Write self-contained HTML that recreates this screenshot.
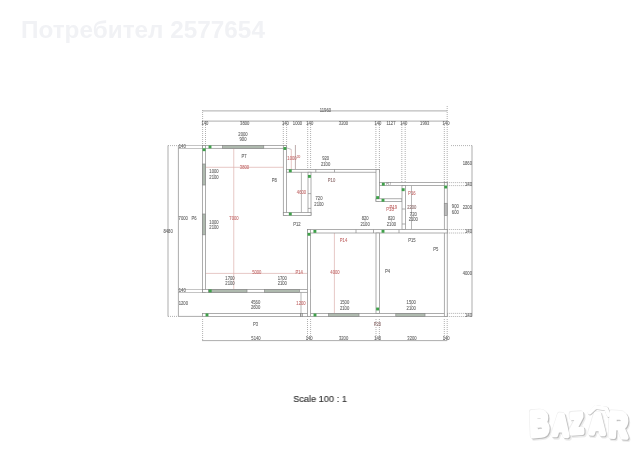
<!DOCTYPE html>
<html lang="bg"><head><meta charset="utf-8"><title>Scale 100 : 1</title>
<style>
html,body{margin:0;padding:0;background:#fff;}
body{width:640px;height:452px;overflow:hidden;position:relative;font-family:"Liberation Sans",sans-serif;}
#plan{position:absolute;left:0;top:0;width:640px;height:452px;will-change:transform;}
#plan text{font-family:"Liberation Sans",sans-serif;}
#user{position:absolute;left:21px;top:17.9px;font-size:23px;font-weight:bold;color:#f1f2f5;white-space:nowrap;line-height:24px;transform:scaleX(1.057);transform-origin:0 0;}
#scale{position:absolute;left:269.7px;width:100px;top:393.4px;text-align:center;font-size:9.8px;transform:scaleX(0.94);color:#333;line-height:12px;white-space:nowrap;-webkit-text-stroke:0.15px #333;will-change:transform;}
#logo{position:absolute;left:520px;top:395px;width:120px;height:57px;}
</style></head><body>
<svg id="plan" viewBox="0 0 640 452" width="640" height="452">
<line x1="202.60" y1="121.00" x2="202.60" y2="145.50" stroke="#9c9c9c" stroke-width="0.8" stroke-dasharray="1 1"/>
<line x1="205.50" y1="121.00" x2="205.50" y2="145.50" stroke="#9c9c9c" stroke-width="0.8" stroke-dasharray="1 1"/>
<line x1="283.30" y1="121.00" x2="283.30" y2="145.50" stroke="#9c9c9c" stroke-width="0.8" stroke-dasharray="1 1"/>
<line x1="286.60" y1="121.00" x2="286.60" y2="145.50" stroke="#9c9c9c" stroke-width="0.8" stroke-dasharray="1 1"/>
<line x1="307.70" y1="121.00" x2="307.70" y2="169.40" stroke="#9c9c9c" stroke-width="0.8" stroke-dasharray="1 1"/>
<line x1="310.60" y1="121.00" x2="310.60" y2="169.40" stroke="#9c9c9c" stroke-width="0.8" stroke-dasharray="1 1"/>
<line x1="375.90" y1="121.00" x2="375.90" y2="169.40" stroke="#9c9c9c" stroke-width="0.8" stroke-dasharray="1 1"/>
<line x1="379.40" y1="121.00" x2="379.40" y2="169.40" stroke="#9c9c9c" stroke-width="0.8" stroke-dasharray="1 1"/>
<line x1="401.80" y1="121.00" x2="401.80" y2="182.60" stroke="#9c9c9c" stroke-width="0.8" stroke-dasharray="1 1"/>
<line x1="405.20" y1="121.00" x2="405.20" y2="182.60" stroke="#9c9c9c" stroke-width="0.8" stroke-dasharray="1 1"/>
<line x1="444.30" y1="121.00" x2="444.30" y2="182.60" stroke="#9c9c9c" stroke-width="0.8" stroke-dasharray="1 1"/>
<line x1="447.20" y1="121.00" x2="447.20" y2="182.60" stroke="#9c9c9c" stroke-width="0.8" stroke-dasharray="1 1"/>
<line x1="447.20" y1="106.00" x2="447.20" y2="121.00" stroke="#9c9c9c" stroke-width="0.8" stroke-dasharray="1 1"/>
<line x1="202.60" y1="110.00" x2="202.60" y2="121.00" stroke="#9c9c9c" stroke-width="0.8" stroke-dasharray="1 1"/>
<line x1="202.60" y1="110.90" x2="447.20" y2="110.90" stroke="#8a8a8a" stroke-width="0.7"/>
<line x1="202.60" y1="121.10" x2="447.20" y2="121.10" stroke="#8a8a8a" stroke-width="0.7"/>
<line x1="168.00" y1="145.50" x2="168.00" y2="316.50" stroke="#8a8a8a" stroke-width="0.7"/>
<line x1="178.40" y1="145.50" x2="178.40" y2="316.50" stroke="#8a8a8a" stroke-width="0.7"/>
<line x1="168.00" y1="145.60" x2="178.40" y2="145.60" stroke="#9c9c9c" stroke-width="0.8" stroke-dasharray="1 1"/>
<line x1="168.00" y1="316.40" x2="178.40" y2="316.40" stroke="#9c9c9c" stroke-width="0.8" stroke-dasharray="1 1"/>
<line x1="178.40" y1="316.40" x2="202.60" y2="316.40" stroke="#8a8a8a" stroke-width="0.7"/>
<rect x="178.40" y="145.50" width="24.20" height="2.80" fill="#fff" stroke="#8a8a8a" stroke-width="0.5"/>
<rect x="178.40" y="289.50" width="24.20" height="2.80" fill="#fff" stroke="#8a8a8a" stroke-width="0.5"/>
<line x1="472.00" y1="145.60" x2="472.00" y2="316.50" stroke="#8a8a8a" stroke-width="0.7"/>
<line x1="451.00" y1="145.60" x2="472.00" y2="145.60" stroke="#9c9c9c" stroke-width="0.8" stroke-dasharray="1 1"/>
<line x1="447.20" y1="182.60" x2="472.00" y2="182.60" stroke="#9c9c9c" stroke-width="0.8" stroke-dasharray="1 1"/>
<line x1="447.20" y1="185.60" x2="472.00" y2="185.60" stroke="#9c9c9c" stroke-width="0.8" stroke-dasharray="1 1"/>
<line x1="447.20" y1="229.50" x2="472.00" y2="229.50" stroke="#9c9c9c" stroke-width="0.8" stroke-dasharray="1 1"/>
<line x1="447.20" y1="233.00" x2="472.00" y2="233.00" stroke="#9c9c9c" stroke-width="0.8" stroke-dasharray="1 1"/>
<line x1="447.20" y1="313.40" x2="472.00" y2="313.40" stroke="#9c9c9c" stroke-width="0.8" stroke-dasharray="1 1"/>
<line x1="447.20" y1="316.50" x2="472.00" y2="316.50" stroke="#9c9c9c" stroke-width="0.8" stroke-dasharray="1 1"/>
<line x1="202.00" y1="340.60" x2="447.30" y2="340.60" stroke="#8a8a8a" stroke-width="0.7"/>
<line x1="202.60" y1="319.00" x2="202.60" y2="340.60" stroke="#9c9c9c" stroke-width="0.8" stroke-dasharray="1 1"/>
<line x1="307.50" y1="319.00" x2="307.50" y2="340.60" stroke="#9c9c9c" stroke-width="0.8" stroke-dasharray="1 1"/>
<line x1="310.60" y1="319.00" x2="310.60" y2="340.60" stroke="#9c9c9c" stroke-width="0.8" stroke-dasharray="1 1"/>
<line x1="376.00" y1="319.00" x2="376.00" y2="340.60" stroke="#9c9c9c" stroke-width="0.8" stroke-dasharray="1 1"/>
<line x1="379.40" y1="319.00" x2="379.40" y2="340.60" stroke="#9c9c9c" stroke-width="0.8" stroke-dasharray="1 1"/>
<line x1="444.30" y1="319.00" x2="444.30" y2="340.60" stroke="#9c9c9c" stroke-width="0.8" stroke-dasharray="1 1"/>
<line x1="447.20" y1="319.00" x2="447.20" y2="340.60" stroke="#9c9c9c" stroke-width="0.8" stroke-dasharray="1 1"/>
<line x1="205.50" y1="167.30" x2="283.30" y2="167.30" stroke="#dcb0ae" stroke-width="0.7"/>
<line x1="233.75" y1="148.30" x2="233.75" y2="289.50" stroke="#dcb0ae" stroke-width="0.7"/>
<line x1="205.50" y1="273.40" x2="307.50" y2="273.40" stroke="#dcb0ae" stroke-width="0.7"/>
<line x1="334.40" y1="233.00" x2="334.40" y2="313.40" stroke="#dcb0ae" stroke-width="0.7"/>
<line x1="411.50" y1="185.60" x2="411.50" y2="229.50" stroke="#999" stroke-width="0.7"/>
<line x1="301.00" y1="292.30" x2="301.00" y2="313.40" stroke="#999" stroke-width="0.7"/>
<line x1="301.40" y1="172.20" x2="301.40" y2="212.60" stroke="#999" stroke-width="0.7"/>
<line x1="295.40" y1="145.00" x2="295.40" y2="169.40" stroke="#a08888" stroke-width="0.7"/>
<line x1="291.30" y1="149.40" x2="291.30" y2="169.40" stroke="#dcb0ae" stroke-width="0.7"/>
<line x1="287.00" y1="148.00" x2="291.30" y2="149.40" stroke="#999" stroke-width="0.6"/>
<rect x="202.60" y="313.40" width="244.60" height="3.10" fill="#fff" stroke="#8a8a8a" stroke-width="0.7"/>
<rect x="202.60" y="145.50" width="84.00" height="2.80" fill="#fff" stroke="#8a8a8a" stroke-width="0.7"/>
<rect x="202.60" y="145.50" width="2.90" height="146.80" fill="#fff" stroke="#8a8a8a" stroke-width="0.7"/>
<rect x="283.30" y="145.50" width="3.30" height="70.00" fill="#fff" stroke="#8a8a8a" stroke-width="0.7"/>
<rect x="202.60" y="289.50" width="108.00" height="2.80" fill="#fff" stroke="#8a8a8a" stroke-width="0.7"/>
<rect x="286.60" y="169.40" width="92.80" height="2.80" fill="#fff" stroke="#8a8a8a" stroke-width="0.7"/>
<rect x="308.00" y="172.20" width="3.00" height="43.30" fill="#fff" stroke="#8a8a8a" stroke-width="0.7"/>
<rect x="283.30" y="212.60" width="27.70" height="2.90" fill="#fff" stroke="#8a8a8a" stroke-width="0.7"/>
<rect x="376.00" y="169.40" width="3.40" height="32.20" fill="#fff" stroke="#8a8a8a" stroke-width="0.7"/>
<rect x="376.00" y="198.80" width="26.00" height="2.80" fill="#fff" stroke="#8a8a8a" stroke-width="0.7"/>
<rect x="379.40" y="182.60" width="67.80" height="3.00" fill="#fff" stroke="#8a8a8a" stroke-width="0.7"/>
<rect x="402.00" y="185.60" width="3.40" height="43.90" fill="#fff" stroke="#8a8a8a" stroke-width="0.7"/>
<rect x="444.30" y="182.60" width="2.90" height="133.90" fill="#fff" stroke="#8a8a8a" stroke-width="0.7"/>
<rect x="307.40" y="229.50" width="139.80" height="3.50" fill="#fff" stroke="#8a8a8a" stroke-width="0.7"/>
<rect x="307.40" y="229.50" width="3.20" height="87.00" fill="#fff" stroke="#8a8a8a" stroke-width="0.7"/>
<rect x="376.00" y="233.00" width="3.40" height="80.40" fill="#fff" stroke="#8a8a8a" stroke-width="0.7"/>
<rect x="222.50" y="145.50" width="41.25" height="2.80" fill="#afbaaf" stroke="#8a8a8a" stroke-width="0.7"/>
<rect x="202.60" y="164.00" width="2.90" height="21.00" fill="#afbaaf" stroke="#8a8a8a" stroke-width="0.7"/>
<rect x="202.60" y="214.00" width="2.90" height="20.80" fill="#afbaaf" stroke="#8a8a8a" stroke-width="0.7"/>
<rect x="208.40" y="289.50" width="38.60" height="2.80" fill="#afbaaf" stroke="#8a8a8a" stroke-width="0.7"/>
<rect x="264.50" y="289.50" width="34.90" height="2.80" fill="#afbaaf" stroke="#8a8a8a" stroke-width="0.7"/>
<rect x="328.60" y="313.40" width="30.40" height="3.10" fill="#afbaaf" stroke="#8a8a8a" stroke-width="0.7"/>
<rect x="395.80" y="313.40" width="29.20" height="3.10" fill="#afbaaf" stroke="#8a8a8a" stroke-width="0.7"/>
<rect x="444.30" y="203.30" width="2.90" height="12.20" fill="#bdbdbd" stroke="#8a8a8a" stroke-width="0.7"/>
<line x1="315.80" y1="169.40" x2="315.80" y2="172.20" stroke="#8a8a8a" stroke-width="0.7"/>
<line x1="334.50" y1="169.40" x2="334.50" y2="172.20" stroke="#8a8a8a" stroke-width="0.7"/>
<line x1="308.00" y1="193.60" x2="311.00" y2="193.60" stroke="#8a8a8a" stroke-width="0.7"/>
<line x1="308.00" y1="208.40" x2="311.00" y2="208.40" stroke="#8a8a8a" stroke-width="0.7"/>
<line x1="356.00" y1="229.50" x2="356.00" y2="233.00" stroke="#8a8a8a" stroke-width="0.7"/>
<line x1="373.50" y1="229.50" x2="373.50" y2="233.00" stroke="#8a8a8a" stroke-width="0.7"/>
<line x1="399.00" y1="229.50" x2="399.00" y2="233.00" stroke="#8a8a8a" stroke-width="0.7"/>
<line x1="402.00" y1="209.00" x2="405.40" y2="209.00" stroke="#8a8a8a" stroke-width="0.7"/>
<line x1="402.00" y1="224.00" x2="405.40" y2="224.00" stroke="#8a8a8a" stroke-width="0.7"/>
<line x1="300.60" y1="313.40" x2="300.60" y2="316.50" stroke="#555" stroke-width="0.7"/>
<line x1="302.20" y1="313.40" x2="302.20" y2="316.50" stroke="#555" stroke-width="0.7"/>
<rect x="208.55" y="145.45" width="2.9" height="2.9" fill="#3fa04a"/>
<rect x="202.65" y="148.25" width="2.9" height="2.9" fill="#3fa04a"/>
<rect x="283.45" y="147.05" width="2.9" height="2.9" fill="#3fa04a"/>
<rect x="288.85" y="169.35" width="2.9" height="2.9" fill="#3fa04a"/>
<rect x="307.95" y="174.95" width="2.9" height="2.9" fill="#3fa04a"/>
<rect x="288.85" y="212.55" width="2.9" height="2.9" fill="#3fa04a"/>
<rect x="208.75" y="289.45" width="2.9" height="2.9" fill="#3fa04a"/>
<rect x="205.55" y="313.45" width="2.9" height="2.9" fill="#3fa04a"/>
<rect x="313.55" y="313.55" width="2.9" height="2.9" fill="#3fa04a"/>
<rect x="307.55" y="232.85" width="2.9" height="2.9" fill="#3fa04a"/>
<rect x="313.45" y="229.95" width="2.9" height="2.9" fill="#3fa04a"/>
<rect x="376.15" y="307.55" width="2.9" height="2.9" fill="#3fa04a"/>
<rect x="381.85" y="182.75" width="2.9" height="2.9" fill="#3fa04a"/>
<rect x="376.15" y="196.15" width="2.9" height="2.9" fill="#3fa04a"/>
<rect x="381.55" y="198.85" width="2.9" height="2.9" fill="#3fa04a"/>
<rect x="401.75" y="188.25" width="2.9" height="2.9" fill="#3fa04a"/>
<rect x="444.25" y="185.55" width="2.9" height="2.9" fill="#3fa04a"/>
<rect x="381.55" y="229.85" width="2.9" height="2.9" fill="#3fa04a"/>
<text transform="translate(325.40,112.00) scale(0.87,1)" fill="#666" stroke="#666" stroke-width="0.1" font-size="4.8" text-anchor="middle">11960</text>
<text transform="translate(204.90,124.70) scale(0.87,1)" fill="#666" stroke="#666" stroke-width="0.1" font-size="4.8" text-anchor="middle">140</text>
<text transform="translate(244.70,124.70) scale(0.87,1)" fill="#666" stroke="#666" stroke-width="0.1" font-size="4.8" text-anchor="middle">3800</text>
<text transform="translate(285.40,124.70) scale(0.87,1)" fill="#666" stroke="#666" stroke-width="0.1" font-size="4.8" text-anchor="middle">140</text>
<text transform="translate(297.50,124.70) scale(0.87,1)" fill="#666" stroke="#666" stroke-width="0.1" font-size="4.8" text-anchor="middle">1000</text>
<text transform="translate(309.75,124.70) scale(0.87,1)" fill="#666" stroke="#666" stroke-width="0.1" font-size="4.8" text-anchor="middle">140</text>
<text transform="translate(343.50,124.70) scale(0.87,1)" fill="#666" stroke="#666" stroke-width="0.1" font-size="4.8" text-anchor="middle">3200</text>
<text transform="translate(377.90,124.70) scale(0.87,1)" fill="#666" stroke="#666" stroke-width="0.1" font-size="4.8" text-anchor="middle">140</text>
<text transform="translate(391.00,124.70) scale(0.87,1)" fill="#666" stroke="#666" stroke-width="0.1" font-size="4.8" text-anchor="middle">1127</text>
<text transform="translate(403.75,124.70) scale(0.87,1)" fill="#666" stroke="#666" stroke-width="0.1" font-size="4.8" text-anchor="middle">140</text>
<text transform="translate(424.75,124.70) scale(0.87,1)" fill="#666" stroke="#666" stroke-width="0.1" font-size="4.8" text-anchor="middle">1993</text>
<text transform="translate(446.00,124.70) scale(0.87,1)" fill="#666" stroke="#666" stroke-width="0.1" font-size="4.8" text-anchor="middle">140</text>
<text transform="translate(256.00,340.10) scale(0.87,1)" fill="#666" stroke="#666" stroke-width="0.1" font-size="4.8" text-anchor="middle">5140</text>
<text transform="translate(309.20,340.10) scale(0.87,1)" fill="#666" stroke="#666" stroke-width="0.1" font-size="4.8" text-anchor="middle">140</text>
<text transform="translate(343.60,340.10) scale(0.87,1)" fill="#666" stroke="#666" stroke-width="0.1" font-size="4.8" text-anchor="middle">3200</text>
<text transform="translate(377.60,340.10) scale(0.87,1)" fill="#666" stroke="#666" stroke-width="0.1" font-size="4.8" text-anchor="middle">140</text>
<text transform="translate(412.00,340.10) scale(0.87,1)" fill="#666" stroke="#666" stroke-width="0.1" font-size="4.8" text-anchor="middle">3200</text>
<text transform="translate(446.20,340.10) scale(0.87,1)" fill="#666" stroke="#666" stroke-width="0.1" font-size="4.8" text-anchor="middle">140</text>
<text transform="translate(255.60,326.10) scale(0.87,1)" fill="#666" stroke="#666" stroke-width="0.1" font-size="4.8" text-anchor="middle">P3</text>
<text transform="translate(377.40,326.10) scale(0.87,1)" fill="#8f6f6f" stroke="#8f6f6f" stroke-width="0.1" font-size="4.8" text-anchor="middle">P20</text>
<text transform="translate(168.10,232.50) scale(0.87,1)" fill="#666" stroke="#666" stroke-width="0.1" font-size="4.8" text-anchor="middle">8480</text>
<text transform="translate(178.60,219.70) scale(0.87,1)" fill="#666" stroke="#666" stroke-width="0.1" font-size="4.8" text-anchor="start">7000</text>
<text transform="translate(194.00,219.70) scale(0.87,1)" fill="#666" stroke="#666" stroke-width="0.1" font-size="4.8" text-anchor="middle">P6</text>
<text transform="translate(178.70,305.40) scale(0.87,1)" fill="#666" stroke="#666" stroke-width="0.1" font-size="4.8" text-anchor="start">1200</text>
<text transform="translate(178.80,292.00) scale(0.87,1)" fill="#666" stroke="#666" stroke-width="0.1" font-size="4.8" text-anchor="start">140</text>
<text transform="translate(178.80,148.20) scale(0.87,1)" fill="#666" stroke="#666" stroke-width="0.1" font-size="4.8" text-anchor="start">140</text>
<text transform="translate(472.00,165.00) scale(0.87,1)" fill="#666" stroke="#666" stroke-width="0.1" font-size="4.8" text-anchor="end">1860</text>
<text transform="translate(472.00,185.80) scale(0.87,1)" fill="#666" stroke="#666" stroke-width="0.1" font-size="4.8" text-anchor="end">140</text>
<text transform="translate(472.00,209.10) scale(0.87,1)" fill="#666" stroke="#666" stroke-width="0.1" font-size="4.8" text-anchor="end">2200</text>
<text transform="translate(472.00,232.80) scale(0.87,1)" fill="#666" stroke="#666" stroke-width="0.1" font-size="4.8" text-anchor="end">140</text>
<text transform="translate(472.00,274.60) scale(0.87,1)" fill="#666" stroke="#666" stroke-width="0.1" font-size="4.8" text-anchor="end">4000</text>
<text transform="translate(472.00,316.60) scale(0.87,1)" fill="#666" stroke="#666" stroke-width="0.1" font-size="4.8" text-anchor="end">140</text>
<text transform="translate(244.50,168.80) scale(0.87,1)" fill="#c46e6e" stroke="#c46e6e" stroke-width="0.1" font-size="4.8" text-anchor="middle">3800</text>
<text transform="translate(234.00,219.70) scale(0.87,1)" fill="#c46e6e" stroke="#c46e6e" stroke-width="0.1" font-size="4.8" text-anchor="middle">7000</text>
<text transform="translate(256.80,274.30) scale(0.87,1)" fill="#c46e6e" stroke="#c46e6e" stroke-width="0.1" font-size="4.8" text-anchor="middle">5000</text>
<text transform="translate(299.10,274.30) scale(0.87,1)" fill="#c46e6e" stroke="#c46e6e" stroke-width="0.1" font-size="4.8" text-anchor="middle">P14</text>
<text transform="translate(335.00,274.30) scale(0.87,1)" fill="#c46e6e" stroke="#c46e6e" stroke-width="0.1" font-size="4.8" text-anchor="middle">4000</text>
<text transform="translate(411.80,209.10) scale(0.87,1)" fill="#8f6f6f" stroke="#8f6f6f" stroke-width="0.1" font-size="4.8" text-anchor="middle">2200</text>
<text transform="translate(411.80,195.10) scale(0.87,1)" fill="#c46e6e" stroke="#c46e6e" stroke-width="0.1" font-size="4.8" text-anchor="middle">P16</text>
<text transform="translate(301.00,305.40) scale(0.87,1)" fill="#c46e6e" stroke="#c46e6e" stroke-width="0.1" font-size="4.8" text-anchor="middle">1200</text>
<text transform="translate(301.50,194.40) scale(0.87,1)" fill="#c46e6e" stroke="#c46e6e" stroke-width="0.1" font-size="4.8" text-anchor="middle">4600</text>
<text transform="translate(292.00,160.30) scale(0.87,1)" fill="#c46e6e" stroke="#c46e6e" stroke-width="0.1" font-size="4.8" text-anchor="middle">1000</text>
<text transform="translate(298.60,158.40) scale(0.87,1)" fill="#c46e6e" stroke="#c46e6e" stroke-width="0.1" font-size="3.6" text-anchor="middle">20</text>
<text transform="translate(343.50,242.00) scale(0.87,1)" fill="#c46e6e" stroke="#c46e6e" stroke-width="0.1" font-size="4.8" text-anchor="middle">P14</text>
<text transform="translate(393.30,208.70) scale(0.87,1)" fill="#c46e6e" stroke="#c46e6e" stroke-width="0.1" font-size="4.8" text-anchor="middle">P19</text>
<text transform="translate(390.00,211.40) scale(0.87,1)" fill="#c46e6e" stroke="#c46e6e" stroke-width="0.1" font-size="4.8" text-anchor="middle">P18</text>
<text transform="translate(331.50,181.90) scale(0.87,1)" fill="#8f6f6f" stroke="#8f6f6f" stroke-width="0.1" font-size="4.8" text-anchor="middle">P10</text>
<text transform="translate(388.60,185.30) scale(0.87,1)" fill="#888" stroke="#888" stroke-width="0.1" font-size="3.2" text-anchor="middle">P17</text>
<text transform="translate(243.00,135.90) scale(0.87,1)" fill="#666" stroke="#666" stroke-width="0.1" font-size="4.8" text-anchor="middle">2000</text>
<text transform="translate(243.00,141.20) scale(0.87,1)" fill="#666" stroke="#666" stroke-width="0.1" font-size="4.8" text-anchor="middle">900</text>
<line x1="243.00" y1="136.20" x2="243.00" y2="138.10" stroke="#888" stroke-width="0.5"/>
<text transform="translate(244.10,158.00) scale(0.87,1)" fill="#666" stroke="#666" stroke-width="0.1" font-size="4.8" text-anchor="middle">P7</text>
<text transform="translate(214.00,173.40) scale(0.87,1)" fill="#666" stroke="#666" stroke-width="0.1" font-size="4.8" text-anchor="middle">1000</text>
<text transform="translate(214.00,178.50) scale(0.87,1)" fill="#666" stroke="#666" stroke-width="0.1" font-size="4.8" text-anchor="middle">2100</text>
<line x1="214.00" y1="173.70" x2="214.00" y2="175.60" stroke="#888" stroke-width="0.5"/>
<text transform="translate(214.00,223.50) scale(0.87,1)" fill="#666" stroke="#666" stroke-width="0.1" font-size="4.8" text-anchor="middle">1000</text>
<text transform="translate(214.00,229.00) scale(0.87,1)" fill="#666" stroke="#666" stroke-width="0.1" font-size="4.8" text-anchor="middle">2100</text>
<line x1="214.00" y1="223.80" x2="214.00" y2="225.70" stroke="#888" stroke-width="0.5"/>
<text transform="translate(274.40,182.20) scale(0.87,1)" fill="#666" stroke="#666" stroke-width="0.1" font-size="4.8" text-anchor="middle">P8</text>
<text transform="translate(296.90,225.60) scale(0.87,1)" fill="#666" stroke="#666" stroke-width="0.1" font-size="4.8" text-anchor="middle">P12</text>
<text transform="translate(325.60,160.25) scale(0.87,1)" fill="#666" stroke="#666" stroke-width="0.1" font-size="4.8" text-anchor="middle">920</text>
<text transform="translate(325.60,165.60) scale(0.87,1)" fill="#666" stroke="#666" stroke-width="0.1" font-size="4.8" text-anchor="middle">2100</text>
<line x1="325.60" y1="160.55" x2="325.60" y2="162.45" stroke="#888" stroke-width="0.5"/>
<text transform="translate(319.00,200.25) scale(0.87,1)" fill="#666" stroke="#666" stroke-width="0.1" font-size="4.8" text-anchor="middle">720</text>
<text transform="translate(319.00,205.60) scale(0.87,1)" fill="#666" stroke="#666" stroke-width="0.1" font-size="4.8" text-anchor="middle">2100</text>
<line x1="319.00" y1="200.55" x2="319.00" y2="202.45" stroke="#888" stroke-width="0.5"/>
<text transform="translate(230.00,279.50) scale(0.87,1)" fill="#666" stroke="#666" stroke-width="0.1" font-size="4.8" text-anchor="middle">1700</text>
<text transform="translate(230.00,285.20) scale(0.87,1)" fill="#666" stroke="#666" stroke-width="0.1" font-size="4.8" text-anchor="middle">2100</text>
<line x1="230.00" y1="279.80" x2="230.00" y2="281.70" stroke="#888" stroke-width="0.5"/>
<text transform="translate(282.30,279.50) scale(0.87,1)" fill="#666" stroke="#666" stroke-width="0.1" font-size="4.8" text-anchor="middle">1700</text>
<text transform="translate(282.30,285.20) scale(0.87,1)" fill="#666" stroke="#666" stroke-width="0.1" font-size="4.8" text-anchor="middle">2100</text>
<line x1="282.30" y1="279.80" x2="282.30" y2="281.70" stroke="#888" stroke-width="0.5"/>
<text transform="translate(255.60,303.60) scale(0.87,1)" fill="#666" stroke="#666" stroke-width="0.1" font-size="4.8" text-anchor="middle">4560</text>
<text transform="translate(255.60,309.40) scale(0.87,1)" fill="#666" stroke="#666" stroke-width="0.1" font-size="4.8" text-anchor="middle">2600</text>
<line x1="255.60" y1="303.90" x2="255.60" y2="305.80" stroke="#888" stroke-width="0.5"/>
<text transform="translate(411.90,242.40) scale(0.87,1)" fill="#666" stroke="#666" stroke-width="0.1" font-size="4.8" text-anchor="middle">P15</text>
<text transform="translate(435.70,250.50) scale(0.87,1)" fill="#666" stroke="#666" stroke-width="0.1" font-size="4.8" text-anchor="middle">P5</text>
<text transform="translate(387.50,272.70) scale(0.87,1)" fill="#666" stroke="#666" stroke-width="0.1" font-size="4.8" text-anchor="middle">P4</text>
<text transform="translate(344.60,304.00) scale(0.87,1)" fill="#666" stroke="#666" stroke-width="0.1" font-size="4.8" text-anchor="middle">1500</text>
<text transform="translate(344.60,309.50) scale(0.87,1)" fill="#666" stroke="#666" stroke-width="0.1" font-size="4.8" text-anchor="middle">2100</text>
<line x1="344.60" y1="304.30" x2="344.60" y2="306.20" stroke="#888" stroke-width="0.5"/>
<text transform="translate(411.25,304.00) scale(0.87,1)" fill="#666" stroke="#666" stroke-width="0.1" font-size="4.8" text-anchor="middle">1500</text>
<text transform="translate(411.25,309.50) scale(0.87,1)" fill="#666" stroke="#666" stroke-width="0.1" font-size="4.8" text-anchor="middle">2100</text>
<line x1="411.25" y1="304.30" x2="411.25" y2="306.20" stroke="#888" stroke-width="0.5"/>
<text transform="translate(365.10,219.60) scale(0.87,1)" fill="#666" stroke="#666" stroke-width="0.1" font-size="4.8" text-anchor="middle">820</text>
<text transform="translate(365.10,226.00) scale(0.87,1)" fill="#666" stroke="#666" stroke-width="0.1" font-size="4.8" text-anchor="middle">2100</text>
<line x1="365.10" y1="219.90" x2="365.10" y2="221.80" stroke="#888" stroke-width="0.5"/>
<text transform="translate(391.40,219.60) scale(0.87,1)" fill="#666" stroke="#666" stroke-width="0.1" font-size="4.8" text-anchor="middle">820</text>
<text transform="translate(391.40,226.00) scale(0.87,1)" fill="#666" stroke="#666" stroke-width="0.1" font-size="4.8" text-anchor="middle">2100</text>
<line x1="391.40" y1="219.90" x2="391.40" y2="221.80" stroke="#888" stroke-width="0.5"/>
<text transform="translate(413.30,215.50) scale(0.87,1)" fill="#666" stroke="#666" stroke-width="0.1" font-size="4.8" text-anchor="middle">720</text>
<text transform="translate(413.30,221.10) scale(0.87,1)" fill="#666" stroke="#666" stroke-width="0.1" font-size="4.8" text-anchor="middle">2100</text>
<line x1="413.30" y1="215.80" x2="413.30" y2="217.70" stroke="#888" stroke-width="0.5"/>
<text transform="translate(455.30,207.70) scale(0.87,1)" fill="#666" stroke="#666" stroke-width="0.1" font-size="4.8" text-anchor="middle">900</text>
<text transform="translate(455.30,213.50) scale(0.87,1)" fill="#666" stroke="#666" stroke-width="0.1" font-size="4.8" text-anchor="middle">600</text>
<line x1="455.30" y1="208.00" x2="455.30" y2="209.90" stroke="#888" stroke-width="0.5"/>
</svg>
<div id="user">Потребител 2577654</div>
<div id="scale">Scale 100 : 1</div>
<svg id="logo" viewBox="520 395 120 57" width="120" height="57">
<g font-family="Liberation Sans, sans-serif" font-weight="bold" text-anchor="middle" stroke-linejoin="round" transform="scale(0.75,1)">
<text fill="#ececec" stroke="#ececec" stroke-width="6.2"><tspan x="722.1" y="437.8" font-size="34" rotate="-3">B</tspan><tspan x="749.5" y="436.4" font-size="29" rotate="3">A</tspan><tspan x="771.5" y="435.0" font-size="27" rotate="-3">Z</tspan><tspan x="798.1" y="434.8" font-size="28" rotate="2">A</tspan><tspan x="826.1" y="437.8" font-size="34" rotate="3">R</tspan></text>
<text fill="#eeeeee" stroke="#eeeeee" stroke-width="5.6"><tspan x="719.3" y="435.4" font-size="34" rotate="-3">B</tspan><tspan x="746.7" y="434.0" font-size="29" rotate="3">A</tspan><tspan x="768.7" y="432.6" font-size="27" rotate="-3">Z</tspan><tspan x="795.3" y="432.4" font-size="28" rotate="2">A</tspan><tspan x="823.3" y="435.4" font-size="34" rotate="3">R</tspan></text>
<text fill="#bdbdbd" stroke="#bdbdbd" stroke-width="5.2"><tspan x="721.2" y="436.9" font-size="34" rotate="-3">B</tspan><tspan x="748.5" y="435.5" font-size="29" rotate="3">A</tspan><tspan x="770.5" y="434.1" font-size="27" rotate="-3">Z</tspan><tspan x="797.2" y="433.9" font-size="28" rotate="2">A</tspan><tspan x="825.2" y="436.9" font-size="34" rotate="3">R</tspan></text>
</g>
<path d="M589.5 412.5 L595.5 407 L606 408.5 L608.5 415" fill="none" stroke="#c4c4c4" stroke-width="4.6" stroke-linejoin="round" stroke-linecap="round" transform="translate(0.6,0.5)"/>
<path d="M589.5 412.5 L595.5 407 L606 408.5 L608.5 415" fill="none" stroke="#fff" stroke-width="4" stroke-linejoin="round" stroke-linecap="round"/>
<g font-family="Liberation Sans, sans-serif" font-weight="bold" text-anchor="middle" stroke-linejoin="round" transform="scale(0.75,1)">
<text fill="#ffffff" stroke="#ffffff" stroke-width="5.2"><tspan x="720.0" y="436.0" font-size="34" rotate="-3">B</tspan><tspan x="747.3" y="434.6" font-size="29" rotate="3">A</tspan><tspan x="769.3" y="433.2" font-size="27" rotate="-3">Z</tspan><tspan x="796.0" y="433.0" font-size="28" rotate="2">A</tspan><tspan x="824.0" y="436.0" font-size="34" rotate="3">R</tspan></text>
</g>
</svg>
</body></html>
